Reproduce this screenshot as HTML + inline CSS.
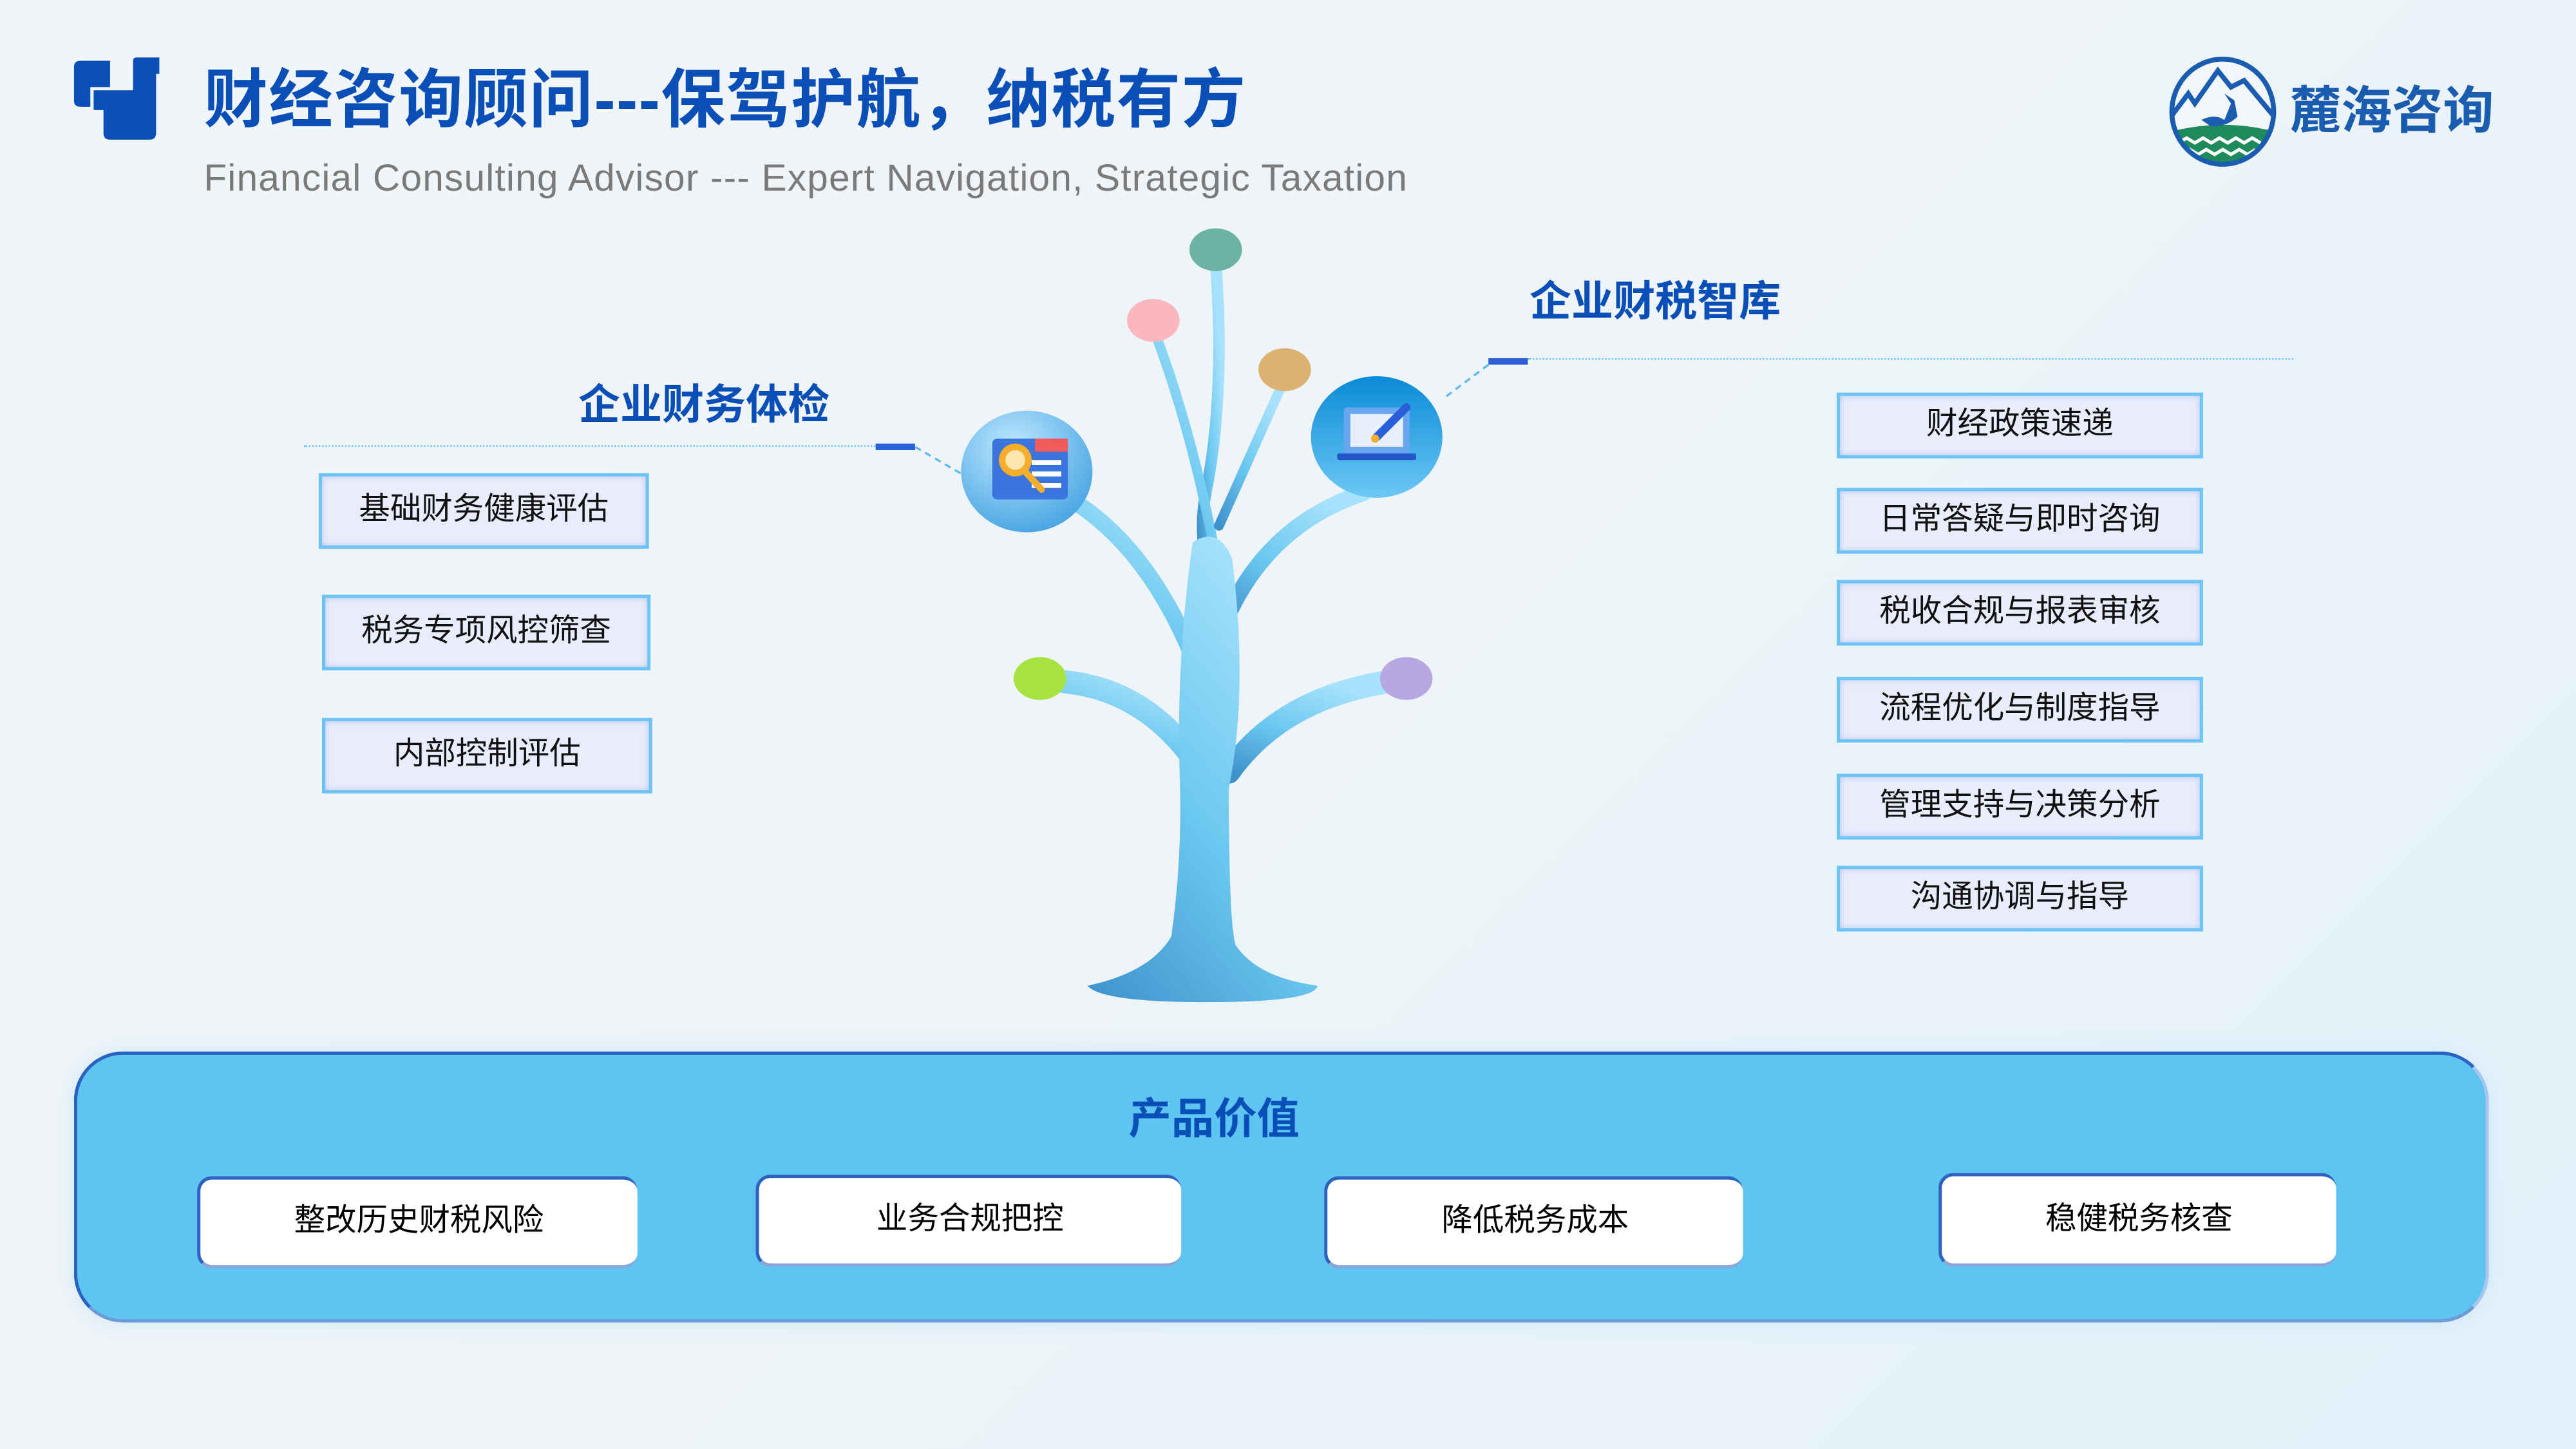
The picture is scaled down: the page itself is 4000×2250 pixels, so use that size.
<!DOCTYPE html>
<html><head><meta charset="utf-8"><style>
*{margin:0;padding:0;box-sizing:border-box}
html,body{width:4000px;height:2250px;overflow:hidden}
body{background:linear-gradient(135deg,#f1f5f8 0%,#eef4f8 50%,#e2f1fb 100%);font-family:"Liberation Sans","Noto Sans CJK SC",sans-serif}
#w{position:absolute;left:0;top:0;width:1568px;height:882px;transform:scale(2.5510);transform-origin:0 0}
.a{position:absolute}
.t{color:#0a4fb8;font-weight:bold;white-space:nowrap}
.lb{position:absolute;background:#e9ecfb;border:2px solid #6cc3f5;box-shadow:inset 0 0 4px #b9c8ee;font-size:19px;color:#111;text-align:center}
.rb{position:absolute;left:1118px;width:223px;height:40px;line-height:36px;background:#e9ecfb;border:2px solid #6cc3f5;box-shadow:inset 0 0 4px #b9c8ee;font-size:19px;color:#111;text-align:center}
.bb{position:absolute;background:#fff;border-radius:9px;border-top:2px solid #2d62c0;border-left:2px solid #2d62c0;border-bottom:2px solid #8aa6d8;font-size:19px;color:#000;text-align:center}
</style></head><body><div id="w">
<svg class="a" style="left:45px;top:33px" width="54" height="53" viewBox="0 0 54 53">
<path d="M0 8 Q0 4 4 4 H22 V20 H10 V32 H4 Q0 32 0 28Z" fill="#0a4fb8"/>
<path d="M12 22 H36 V4 Q36 2 38 2 H52 V12 H50 V48 Q50 52 46 52 H22 Q18 52 18 48 V34 H12Z" fill="#0a4fb8"/>
</svg>
<div class="a t" style="left:124px;top:37px;font-size:39px;line-height:50px;letter-spacing:0.6px">财经咨询顾问---保驾护航，纳税有方</div>
<div class="a" style="left:124px;top:95px;font-size:23px;color:#7a7a7a;white-space:nowrap;letter-spacing:0.45px">Financial Consulting Advisor --- Expert Navigation, Strategic Taxation</div>
<svg class="a" style="left:1318px;top:33px" width="70" height="70" viewBox="0 0 70 70">
<defs><clipPath id="c"><ellipse cx="35" cy="35" rx="31" ry="32"/></clipPath></defs>
<ellipse cx="35" cy="35" rx="31" ry="32" fill="#fff" opacity=".3"/>
<g clip-path="url(#c)">
<path d="M2 40 L14 24 L18 30 L32 10 L40 20 L48 16 L68 40" fill="none" stroke="#1a5cb0" stroke-width="3"/>
<path d="M0 48 Q35 38 70 48 V70 H0Z" fill="#1f8a5a"/>
<path d="M8 54 l5 -3 5 3 5 -3 5 3 5 -3 5 3 5 -3 5 3 5 -3 5 3 M10 61 l5 -3 5 3 5 -3 5 3 5 -3 5 3 5 -3 5 3 5 -3" fill="none" stroke="#fff" stroke-width="2"/>
</g>
<path d="M22 40 Q30 36 36 40 L40 30 L36 24 L42 28 L44 38 Q38 44 28 44Z" fill="#1a5cb0"/>
<ellipse cx="35" cy="35" rx="31" ry="32" fill="none" stroke="#1a5cb0" stroke-width="3"/>
</svg>
<div class="a t" style="left:1394px;top:48px;font-size:31px;line-height:40px;color:#1a5cb0">麓海咨询</div>

<div class="a t" style="left:352px;top:231px;font-size:25.5px;line-height:32px">企业财务体检</div>
<div class="a" style="left:185px;top:271px;width:348px;border-top:1.5px dotted #6cc3f5"></div>
<div class="a" style="left:533px;top:270px;width:24px;height:4px;background:#2b5fd9"></div>
<div class="a t" style="left:931px;top:168px;font-size:25.5px;line-height:32px">企业财税智库</div>
<div class="a" style="left:930px;top:218px;width:466px;border-top:1.5px dotted #6cc3f5"></div>
<div class="a" style="left:906px;top:218px;width:24px;height:4px;background:#2b5fd9"></div>

<svg class="a" style="left:0;top:0" width="1568" height="882" viewBox="0 0 1568 882">
<defs>
<linearGradient id="tg" x1="0" y1="1" x2="0.6" y2="0"><stop offset="0" stop-color="#3d92cc"/><stop offset=".5" stop-color="#6cc8f0"/><stop offset="1" stop-color="#a6e2fb"/></linearGradient>
<radialGradient id="ci" cx=".4" cy=".3" r=".8"><stop offset="0" stop-color="#bfe9ff"/><stop offset="1" stop-color="#3d9ee0"/></radialGradient>
<linearGradient id="ci2" x1="0" y1="0" x2="0" y2="1"><stop offset="0" stop-color="#0a8ad6"/><stop offset="1" stop-color="#6cc8f5"/></linearGradient>
</defs>
<line x1="557" y1="272" x2="588" y2="290" stroke="#5fb8ee" stroke-width="1.3" stroke-dasharray="4 3"/>
<line x1="906" y1="222" x2="878" y2="243" stroke="#5fb8ee" stroke-width="1.3" stroke-dasharray="4 3"/>
<g fill="none" stroke="url(#tg)" stroke-linecap="round">
<path d="M740 160 Q746 240 734 300 Q728 330 740 360" stroke-width="7"/>
<path d="M704 205 Q728 270 742 350" stroke-width="6"/>
<path d="M780 235 Q760 280 742 320" stroke-width="6"/>
<path d="M645 300 Q700 330 730 410" stroke-width="10"/>
<path d="M830 300 Q770 320 745 380" stroke-width="10"/>
<path d="M648 415 Q700 420 732 470" stroke-width="14"/>
<path d="M845 415 Q780 425 748 470" stroke-width="14"/>
</g>
<path d="M726 330 Q742 320 750 340 Q760 420 748 480 Q748 560 752 575 Q765 595 802 600 Q800 610 735 610 Q670 610 662 600 Q700 592 713 570 Q720 520 718 470 Q716 400 726 330Z" fill="url(#tg)"/>
<ellipse cx="740" cy="152" rx="16" ry="13" fill="#6db3a3"/>
<ellipse cx="702" cy="195" rx="16" ry="13" fill="#fbb6be"/>
<ellipse cx="782" cy="225" rx="16" ry="13" fill="#dcb271"/>
<ellipse cx="633" cy="413" rx="16" ry="13" fill="#a6e33e"/>
<ellipse cx="856" cy="413" rx="16" ry="13" fill="#b7a7e2"/>
<ellipse cx="625" cy="287" rx="40" ry="37" fill="url(#ci)"/>
<rect x="604" y="267" width="46" height="37" rx="3" fill="#3a74dd"/>
<rect x="630" y="267" width="20" height="8" fill="#f05a5a"/>
<rect x="628" y="280" width="18" height="3" fill="#fff"/><rect x="628" y="287" width="18" height="3" fill="#fff"/><rect x="628" y="294" width="18" height="3" fill="#fff"/>
<circle cx="618" cy="280" r="10" fill="#f5ad2c"/><circle cx="618" cy="280" r="6" fill="#fde6b0"/>
<line x1="624" y1="287" x2="634" y2="298" stroke="#f5ad2c" stroke-width="4" stroke-linecap="round"/>
<ellipse cx="838" cy="266" rx="40" ry="37" fill="url(#ci2)"/>
<rect x="818" y="248" width="40" height="28" rx="2" fill="#6aa6f0"/>
<rect x="822" y="252" width="32" height="20" fill="#e8eefa"/>
<rect x="814" y="276" width="48" height="4" rx="1" fill="#2456c8"/>
<line x1="838" y1="266" x2="856" y2="248" stroke="#2b5fd9" stroke-width="5" stroke-linecap="round"/>
<circle cx="837" cy="267" r="2.5" fill="#f5ad2c"/>
</svg>

<div class="lb" style="left:194px;top:288px;width:201px;height:46px;line-height:42px">基础财务健康评估</div>
<div class="lb" style="left:196px;top:362px;width:200px;height:46px;line-height:42px">税务专项风控筛查</div>
<div class="lb" style="left:196px;top:437px;width:201px;height:46px;line-height:42px">内部控制评估</div>
<div class="rb" style="top:239px">财经政策速递</div>
<div class="rb" style="top:297px">日常答疑与即时咨询</div>
<div class="rb" style="top:353px">税收合规与报表审核</div>
<div class="rb" style="top:412px">流程优化与制度指导</div>
<div class="rb" style="top:471px">管理支持与决策分析</div>
<div class="rb" style="top:527px">沟通协调与指导</div>

<div class="a" style="left:45px;top:640px;width:1470px;height:165px;border-radius:30px;background:#5ec4f2;border:2px solid #2a62c0;border-right-color:#a9c6ee;border-bottom-color:#6f9ad8;box-shadow:0 0 14px #cfe8f8"></div>
<div class="a t" style="left:687px;top:664px;font-size:26px;line-height:34px">产品价值</div>
<div class="bb" style="left:120px;top:716px;width:268px;height:56px;line-height:52px">整改历史财税风险</div>
<div class="bb" style="left:460px;top:715px;width:259px;height:56px;line-height:52px">业务合规把控</div>
<div class="bb" style="left:806px;top:716px;width:255px;height:56px;line-height:52px">降低税务成本</div>
<div class="bb" style="left:1180px;top:714px;width:242px;height:57px;line-height:53px">稳健税务核查</div>
</div></body></html>
